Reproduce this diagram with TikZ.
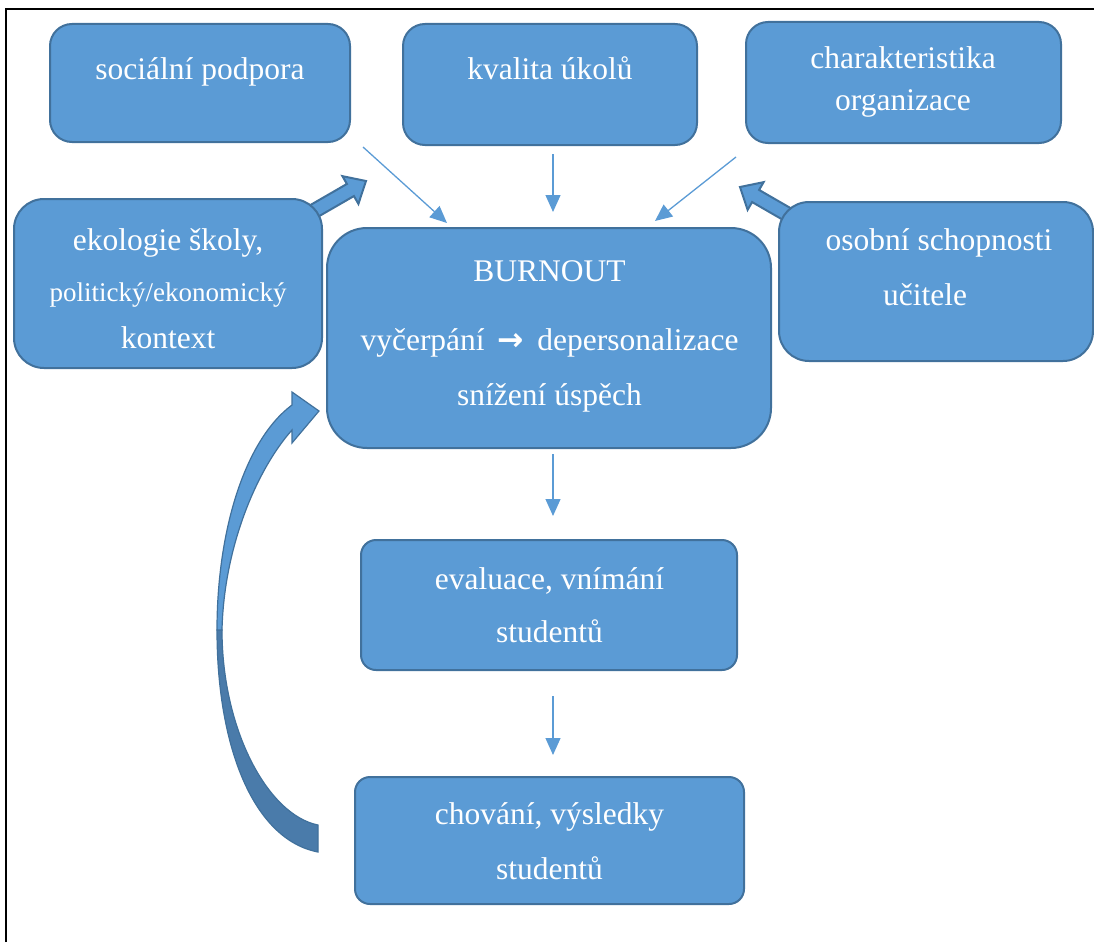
\documentclass[tikz,border=0pt]{standalone}
\usepackage{fontspec}
\setmainfont{Liberation Serif}
\newfontfamily\symfont{DejaVu Sans}
\usetikzlibrary{arrows.meta}
\definecolor{boxfill}{HTML}{5B9BD5}
\definecolor{boxline}{HTML}{41719C}
\definecolor{darkarc}{HTML}{4A7BAA}
\begin{document}
\begin{tikzpicture}[x=1pt,y=-1pt,
  box/.style={draw=boxline, line width=2pt, fill=boxfill, rectangle, inner sep=0pt},
  txt/.style={text=white, font=\fontsize{31.5}{36}\selectfont, anchor=base, inner sep=0pt},
  small/.style={font=\fontsize{27}{32}\selectfont},
  conn/.style={draw=boxfill, line width=1.3pt, -{Triangle[length=17pt,width=15pt]}},
  blockarrow/.style={fill=boxfill, draw=boxline, line width=2pt, line join=miter}]
\useasboundingbox (0,0) rectangle (1094,942);
% frame
\draw[line width=2.5pt] (6,942) -- (6,9) -- (1094,9);

% curved arrow (back part, darker)
\draw[fill=darkarc, draw=boxline, line width=1.2pt]
  (217,630) .. controls (217,750) and (255,840) .. (318,852)
  -- (318,825) .. controls (268,815) and (222,730) .. (222,630) -- cycle;
% curved arrow (front part with head)
\draw[fill=boxfill, draw=boxline, line width=1.2pt, line join=miter]
  (222,630) .. controls (224,545) and (258,468) .. (292,430)
  -- (292,443) -- (319,411) -- (292,392) -- (292,405)
  .. controls (245,440) and (217,530) .. (217,630) -- cycle;

% block arrows
\begin{scope}[shift={(366,181)}, rotate=30]
  \draw[blockarrow] (0,0) -- (-18,-16) -- (-18,-7) -- (-75,-7) -- (-75,7) -- (-18,7) -- (-18,16) -- cycle;
\end{scope}
\begin{scope}[shift={(740,187)}, rotate=150]
  \draw[blockarrow] (0,0) -- (-18,-16) -- (-18,-7) -- (-75,-7) -- (-75,7) -- (-18,7) -- (-18,16) -- cycle;
\end{scope}

% boxes
\node[box, rounded corners=22pt, minimum width=300pt, minimum height=118pt] (soc) at (200,83) {};
\node[box, rounded corners=22pt, minimum width=294pt, minimum height=121pt] (kval) at (550,84.5) {};
\node[box, rounded corners=22pt, minimum width=315pt, minimum height=121pt] (char) at (903.5,82.5) {};
\node[box, rounded corners=30pt, minimum width=308pt, minimum height=169pt] (eko) at (168,283.5) {};
\node[box, rounded corners=40pt, minimum width=444pt, minimum height=220pt] (burn) at (549,338) {};
\node[box, rounded corners=30pt, minimum width=314pt, minimum height=159pt] (osob) at (936,281.5) {};
\node[box, rounded corners=15pt, minimum width=376pt, minimum height=130pt] (eval) at (549,605) {};
\node[box, rounded corners=15pt, minimum width=389pt, minimum height=127pt] (chov) at (549.5,840.5) {};

% texts
\node[txt] (tsoc) at (200,79) {sociální podpora};
\node[txt] (tkval) at (550,79) {kvalita úkolů};
\node[txt] (tchar1) at (903,69) {charakteristika};
\node[txt] (tchar2) at (903,110) {organizace};
\node[txt] (teko1) at (168,250) {ekologie školy,};
\node[txt, small] (teko2) at (168,301) {politický/ekonomický};
\node[txt] (teko3) at (168,348) {kontext};
\node[txt] (tburn1) at (549.5,281) {BURNOUT};
\node[txt] (tburn2) at (549.5,350) {vyčerpání \,{\symfont\bfseries →}\, depersonalizace};
\node[txt] (tburn3) at (549.5,405) {snížení úspěch};
\node[txt] (tosob1) at (939,250) {osobní schopnosti};
\node[txt] (tosob2) at (925,305) {učitele};
\node[txt] (teval1) at (549.5,589) {evaluace, vnímání};
\node[txt] (teval2) at (549.5,642) {studentů};
\node[txt] (tchov1) at (549.5,824) {chování, výsledky};
\node[txt] (tchov2) at (549.5,879) {studentů};

% thin connectors
\coordinate (a1s) at (363,147);
\coordinate (a1e) at (447,223);
\coordinate (a2s) at (553,154);
\coordinate (a2e) at (553,212);
\coordinate (a3s) at (736,157);
\coordinate (a3e) at (655,221);
\coordinate (a4s) at (553,454);
\coordinate (a4e) at (553,516);
\coordinate (a5s) at (553,696);
\coordinate (a5e) at (553,755);
\draw[conn] (a1s) -- (a1e);
\draw[conn] (a2s) -- (a2e);
\draw[conn] (a3s) -- (a3e);
\draw[conn] (a4s) -- (a4e);
\draw[conn] (a5s) -- (a5e);
\end{tikzpicture}
\end{document}
